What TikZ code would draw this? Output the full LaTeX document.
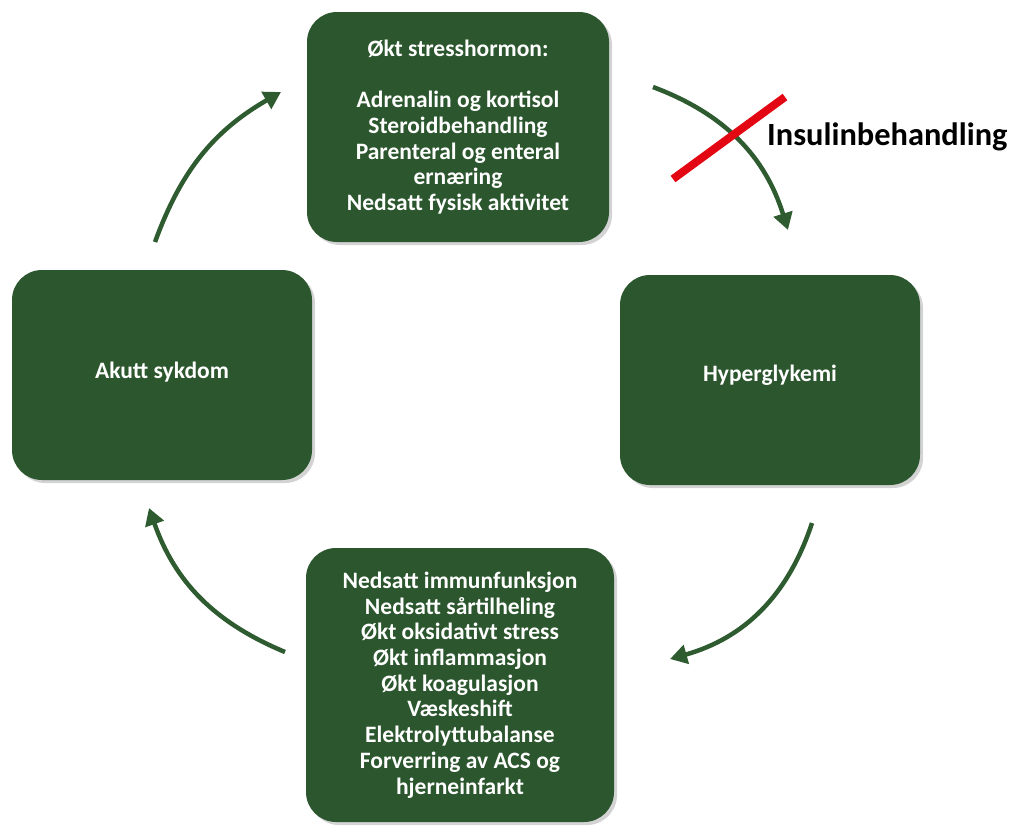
\documentclass[tikz,border=0pt]{standalone}
\usepackage{fontspec}
\setmainfont{Carlito}
\usetikzlibrary{arrows.meta,shadows}
\definecolor{boxgreen}{RGB}{44,86,46}
\definecolor{arrowgreen}{RGB}{46,92,48}
\definecolor{crossred}{RGB}{227,6,19}
\tikzset{
  cyclebox/.style={draw=none, fill=boxgreen, rounded corners=30pt, text=white,
    font=\fontsize{23.5}{25.7}\selectfont\bfseries, align=center,
    drop shadow={opacity=0.35, shadow xshift=3pt, shadow yshift=-3pt}},
  cyclearrow/.style={draw=arrowgreen, line width=4.5pt,
    -{Triangle[length=17pt,width=19pt]}}
}
\begin{document}
\begin{tikzpicture}[x=1pt, y=-1pt]
  \useasboundingbox (0,0) rectangle (1015,825);

  % boxes
  \node[cyclebox, minimum width=302pt, minimum height=230pt] (stress) at (458,127)
    {Økt stresshormon:\\[25.7pt]Adrenalin og kortisol\\Steroidbehandling\\Parenteral og enteral\\ernæring\\Nedsatt fysisk aktivitet};
  \node[cyclebox, minimum width=300pt, minimum height=210pt, text depth=14pt] (hyper) at (770,380) {Hyperglykemi};
  \node[cyclebox, minimum width=308pt, minimum height=274pt] (effects) at (460,685)
    {Nedsatt immunfunksjon\\Nedsatt sårtilheling\\Økt oksidativt stress\\Økt inflammasjon\\Økt koagulasjon\\Væskeshift\\Elektrolyttubalanse\\Forverring av ACS og\\hjerneinfarkt};
  \node[cyclebox, minimum width=300pt, minimum height=210pt, text depth=9pt] (akutt) at (162,375) {Akutt sykdom};

  % arrow ends
  \coordinate (a1) at (155,242); \coordinate (b1) at (281,92);   % akutt -> stress
  \coordinate (a2) at (653,87);  \coordinate (b2) at (788,230);  % stress -> hyper
  \coordinate (a3) at (812,523); \coordinate (b3) at (670,659);  % hyper -> effects
  \coordinate (a4) at (285,652); \coordinate (b4) at (149,508);  % effects -> akutt

  \draw[cyclearrow] (a1) to[bend left=20] (b1);
  \draw[cyclearrow] (a2) to[bend left=26] (b2);
  \draw[cyclearrow] (a3) to[bend left=28] (b3);
  \draw[cyclearrow] (a4) to[bend left=24] (b4);

  % crossed-out treatment
  \coordinate (r1) at (673,179); \coordinate (r2) at (785,97);
  \draw[crossred, line width=8pt] (r1) -- (r2);
  \node[anchor=base west, inner sep=0pt, font=\fontsize{32.4}{36}\selectfont\bfseries] (insulin) at (767,145) {Insulinbehandling};

\end{tikzpicture}
\end{document}
